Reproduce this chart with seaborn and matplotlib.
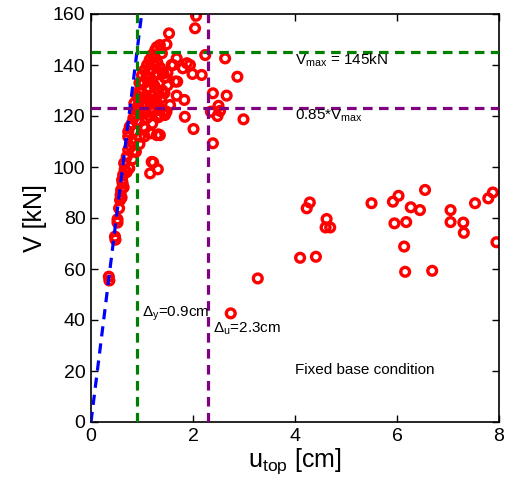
import matplotlib
matplotlib.use("Agg")
import matplotlib.pyplot as plt
import seaborn as sns
import pandas as pd

# ---- data ----
u_top = [0.35, 0.36, 0.47, 0.48, 0.52, 0.52, 0.55, 0.57, 0.58, 0.59, 0.61, 0.62, 0.63, 0.65, 0.66,
         0.70, 0.73, 0.75, 0.73, 0.73, 0.76, 0.78, 0.80, 0.83, 0.83, 0.85, 0.88, 0.90, 0.90, 0.93,
         0.96, 0.96, 0.95, 1.00, 1.03, 1.03, 1.05, 1.06, 1.09, 1.09, 1.10, 1.10, 1.10, 1.15, 1.16,
         1.16, 1.16, 1.19, 1.19, 1.20, 1.20, 1.20, 1.22, 1.25, 1.25, 1.26, 1.29, 1.29, 1.29, 1.31,
         1.32, 1.32, 1.32, 1.32, 1.35, 1.35, 1.35, 1.35, 1.35, 1.39, 1.40, 1.40, 1.42, 1.42, 1.45,
         1.45, 1.48, 1.48, 1.50, 1.53, 1.55, 1.58, 1.61, 1.65, 1.68, 1.68, 1.69, 1.80, 1.83, 1.84,
         1.88, 1.94, 1.99, 2.01, 2.04, 2.06, 2.17, 2.24, 2.35, 2.39, 2.39, 2.48, 2.50, 2.53, 2.63,
         2.66, 2.74, 2.87, 2.99, 3.27,
         0.80, 0.85, 0.90, 0.95, 1.00, 1.05, 1.30, 1.25, 1.15, 1.20, 1.05, 0.95, 0.82, 0.70, 0.64, 0.60,
         0.86, 0.92, 0.98, 1.02, 1.08, 1.12, 1.14, 1.18, 1.22, 1.24, 1.28, 1.34, 1.38, 1.44, 1.50,
         4.10, 4.23, 4.29, 4.41, 4.62, 4.60, 4.69, 5.50, 5.92, 5.95, 6.03, 6.14, 6.16, 6.18, 6.27,
         6.45, 6.55, 6.69, 7.05, 7.05, 7.30, 7.31, 7.53, 7.79, 7.88, 7.95]
V_kN = [57.0, 55.5, 72.7, 71.5, 78.2, 79.5, 83.8, 87.0, 89.0, 91.0, 94.9, 93.6, 96.9, 101.5, 99.0,
        104.0, 106.7, 99.5, 111.9, 113.8, 115.8, 108.0, 110.0, 106.0, 119.1, 114.0, 106.0, 122.4, 118.0, 126.9,
        130.2, 111.9, 122.0, 127.0, 132.8, 115.8, 121.0, 115.2, 135.4, 119.1, 124.0, 131.0, 140.0, 142.0, 113.2,
        125.6, 97.5, 102.0, 126.3, 134.0, 144.0, 128.0, 101.8, 140.0, 143.0, 145.9, 147.0, 136.7, 112.5, 99.1,
        129.5, 122.4, 119.5, 112.8, 147.8, 123.0, 120.4, 112.5, 139.0, 144.6, 137.0, 130.0, 136.7, 121.7, 135.0,
        120.4, 148.1, 121.7, 132.0, 152.4, 124.3, 140.0, 140.0, 133.5, 142.6, 128.0, 133.5, 138.7, 126.3, 119.7,
        140.7, 140.0, 136.5, 114.9, 154.4, 159.3, 136.1, 143.9, 121.7, 128.9, 109.3, 120.0, 124.0, 122.0, 142.6,
        128.0, 42.6, 135.4, 118.7, 56.3,
        117.0, 125.0, 128.0, 133.0, 136.0, 138.0, 141.0, 125.0, 120.0, 117.0, 112.0, 109.0, 103.0, 98.0, 92.0, 88.0,
        121.0, 124.0, 129.0, 125.0, 128.0, 135.0, 131.0, 138.0, 122.0, 132.0, 126.0, 133.0, 127.0, 129.0, 137.0,
        64.4, 83.8, 86.1, 64.8, 79.6, 76.3, 76.3, 85.8, 86.4, 77.9, 88.7, 68.8, 58.9, 78.4, 84.2,
        83.1, 91.0, 59.3, 83.1, 78.4, 78.2, 74.2, 85.8, 87.7, 90.0, 70.5]

V_max = 145.0          # kN
V_ratio = 0.85
delta_y = 0.9          # cm
delta_u = 2.3          # cm
x_ticks = [0, 2, 4, 6, 8]
y_ticks = [0, 20, 40, 60, 80, 100, 120, 140, 160]

df = pd.DataFrame({"u_top": u_top, "V": V_kN})

sns.set_style("white")
plt.rcParams["font.family"] = ["Liberation Sans", "DejaVu Sans"]
plt.rcParams["mathtext.fontset"] = "custom"
plt.rcParams["mathtext.rm"] = "Liberation Sans"
plt.rcParams["mathtext.it"] = "Liberation Sans"
plt.rcParams["mathtext.bf"] = "Liberation Sans"
plt.rcParams["text.color"] = "black"
plt.rcParams["axes.labelcolor"] = "black"
plt.rcParams["xtick.color"] = "black"
plt.rcParams["ytick.color"] = "black"

fig = plt.figure(figsize=(5.13, 4.95), dpi=100)
ax = fig.add_axes([91 / 513, 1 - 422 / 495, 408 / 513, 408 / 495])

sns.scatterplot(data=df, x="u_top", y="V", ax=ax, marker="o", s=40,
                facecolors="none", edgecolor="#ff0000", linewidth=2.4, zorder=2, legend=False)

# initial stiffness line through origin and yield point
k0 = V_max / delta_y
line_df = pd.DataFrame({"u": [0.0, 1.2], "V": [0.0, k0 * 1.2]})
sns.lineplot(data=line_df, x="u", y="V", ax=ax, color="#0000ff", lw=2.3,
             dashes=False, zorder=3)
ax.lines[-1].set_dashes([3.2, 2.2])

dash = (0, (3.0, 2.0))
ax.axhline(V_max, color="#008000", lw=2.3, linestyle=dash, zorder=3)
ax.axvline(delta_y, color="#008000", lw=2.3, linestyle=dash, zorder=3)
ax.axhline(V_ratio * V_max, color="#800080", lw=2.3, linestyle=dash, zorder=3)
ax.axvline(delta_u, color="#800080", lw=2.3, linestyle=dash, zorder=3)

fs = 11
ax.text(4.0, 138.5, r"V$_{\mathrm{max}}$ = 145kN", fontsize=fs, va="bottom")
ax.text(4.0, 117.0, r"0.85*V$_{\mathrm{max}}$", fontsize=fs, va="bottom")
ax.text(1.0, 39.0, r"Δ$_{\mathrm{y}}$=0.9cm", fontsize=fs, va="bottom")
ax.text(2.39, 33.5, r"Δ$_{\mathrm{u}}$=2.3cm", fontsize=fs, va="bottom")
ax.text(4.0, 17.5, "Fixed base condition", fontsize=fs, va="bottom")

ax.set_xlim(0, 8)
ax.set_ylim(0, 160)
ax.set_xticks(x_ticks)
ax.set_yticks(y_ticks)
ax.set_xticklabels([str(t) for t in x_ticks])
ax.set_yticklabels([str(t) for t in y_ticks])
ax.tick_params(direction="in", length=5, width=1, labelsize=14, top=True, right=True,
               bottom=True, left=True, colors="black", pad=4)
ax.set_xlabel(r"u$_{\mathrm{top}}$ [cm]", fontsize=18, labelpad=1)
ax.set_ylabel("V [kN]", fontsize=18, labelpad=4)
for sp in ax.spines.values():
    sp.set_color("black")
    sp.set_linewidth(1.2)
    sp.set_visible(True)

fig.savefig("out.png", dpi=100)
